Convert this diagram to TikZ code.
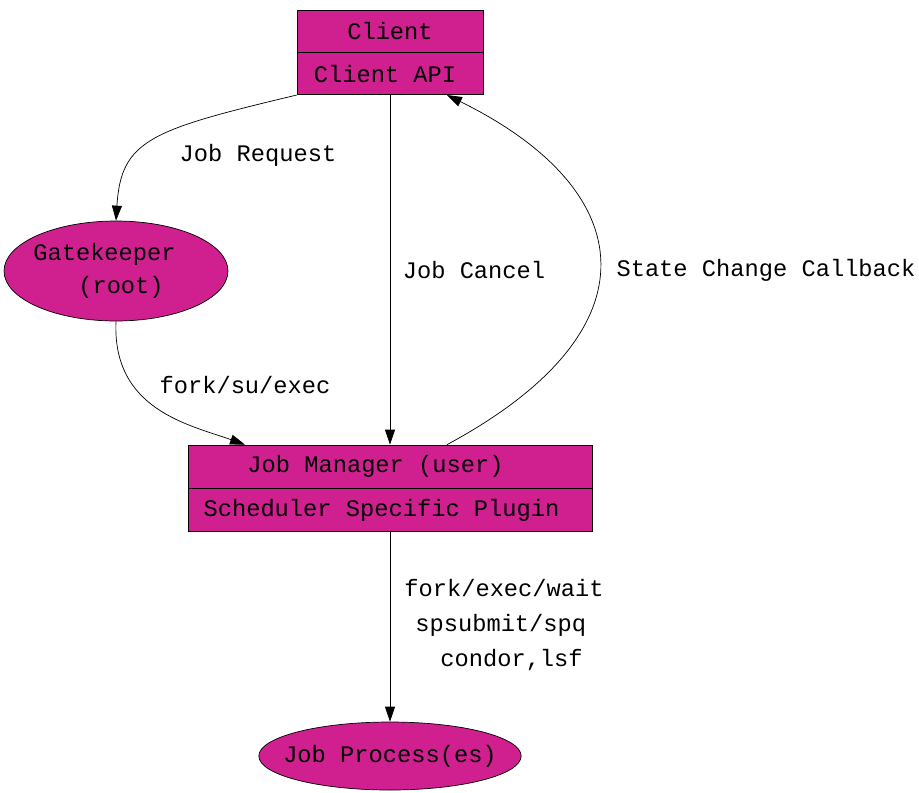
\documentclass[tikz,border=0pt]{standalone}
\usepackage{fontspec}
\setmonofont{Liberation Mono}
\definecolor{mymagenta}{RGB}{208,32,144}
\usetikzlibrary{arrows.meta,shapes.geometric,positioning}

\begin{document}
\begin{tikzpicture}[x=0.02cm,y=-0.02cm,
    every node/.style={font=\ttfamily\fontsize{13.5}{17}\selectfont,inner sep=0pt},
    recpart/.style={draw,fill=mymagenta,rectangle},
    ellnode/.style={draw,fill=mymagenta,ellipse,align=center},
    edgelabel/.style={align=left},
    arr/.style={-{Triangle[length=0.3cm,width=0.2cm]}}
    ]
    \useasboundingbox (0,0) rectangle (919,792);

    % the client record
    \node[recpart,minimum width=3.72cm,minimum height=0.84cm] (client) at (390,31) {Client};
    \node[recpart,minimum width=3.72cm,minimum height=0.84cm,below=0pt of client] (clientapi) {Client API\kern0.2cm};

    % the gatekeeper
    \node[ellnode,inner xsep=-0.2cm,minimum width=4.48cm,minimum height=2cm] (gate) at (116,271)
        {Gatekeeper\hspace*{0.46cm}\\[2pt]\hspace*{0.2cm}(root)};

    % the job manager record
    \node[recpart,minimum width=8.08cm,minimum height=0.86cm] (jm) at (390,466.5) {Job Manager (user)\kern0.58cm};
    \node[recpart,minimum width=8.08cm,minimum height=0.86cm,below=0pt of jm] (plugin) {Scheduler Specific Plugin\kern0.34cm};

    % the job process
    \node[ellnode,inner xsep=-0.28cm,minimum width=5.12cm,minimum height=1.36cm] (proc) at (390,756) {Job Process(es)};

    % the edge labels
    \node[edgelabel] (lreq) at (258,155) {Job Request};
    \node[edgelabel] (lcancel) at (474,270) {Job Cancel};
    \node[edgelabel] (lstate) at (766,270) {State Change Callback};
    \node[edgelabel] (lfork) at (245,385) {fork/su/exec};
    \node[edgelabel] (lexec) at (504,625)
        {fork/exec/wait\\[3pt]\hspace*{0.22cm}spsubmit/spq\\[3pt]\hspace*{0.72cm}condor,lsf};

    % the edges
    \draw[arr] (clientapi.south west) .. controls (150,130) and (121,140) .. (gate.north);
    \draw[arr] (clientapi.south) -- (jm.north);
    \draw[arr] ([xshift=1.14cm]jm.north) .. controls (660,330) and (640,190) .. ([xshift=1.14cm]clientapi.south);
    \draw[arr] (gate.south) .. controls (112,410) and (190,425) .. ([xshift=-2.9cm]jm.north);
    \draw[arr] (plugin.south) -- (proc.north);
\end{tikzpicture}
\end{document}
